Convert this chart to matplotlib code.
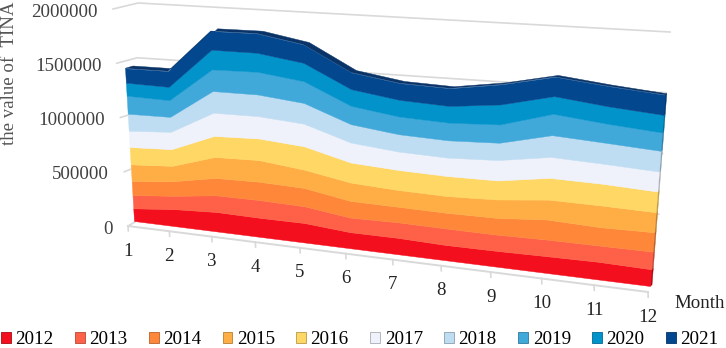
import numpy as np
import matplotlib

matplotlib.use("Agg")
import matplotlib.pyplot as plt
from matplotlib.patches import Patch
from matplotlib.transforms import Transform

plt.rcParams["font.family"] = ["Liberation Serif", "DejaVu Serif"]

months = np.arange(1, 13)

# values
v2012 = [120000, 158000, 177000, 170000, 170000, 137000, 137000, 125000, 126000, 131000, 135000, 126000]
v2013 = [126000, 124000, 152000, 158000, 146000, 125000, 130000, 135000, 130000, 130000, 125000, 133000]
v2014 = [133000, 136000, 158000, 164000, 160000, 143000, 130000, 129000, 134000, 157000, 141000, 146000]
v2015 = [158000, 142000, 191000, 193000, 160000, 157000, 140000, 137000, 147000, 157000, 167000, 151000]
v2016 = [164000, 155000, 191000, 193000, 204000, 171000, 168000, 164000, 153000, 171000, 167000, 156000]
v2017 = [155000, 161000, 212000, 199000, 198000, 171000, 154000, 151000, 164000, 165000, 154000, 151000]
v2018 = [161000, 139000, 197000, 193000, 181000, 157000, 145000, 142000, 139000, 171000, 162000, 156000]
v2019 = [171000, 155000, 197000, 202000, 190000, 157000, 148000, 145000, 147000, 168000, 147000, 138000]
v2020 = [123000, 124000, 179000, 170000, 160000, 143000, 140000, 137000, 161000, 139000, 134000, 133000]
v2021 = [136000, 146000, 170000, 173000, 160000, 143000, 140000, 145000, 161000, 152000, 154000, 151000]

years = ["2012", "2013", "2014", "2015", "2016", "2017", "2018", "2019", "2020", "2021"]
series = [v2012, v2013, v2014, v2015, v2016, v2017, v2018, v2019, v2020, v2021]
colors = ["#F40F1E", "#FF6148", "#FF873A", "#FFAE45", "#FFD764",
          "#EFF1FB", "#BFDDF2", "#41A8DA", "#0293CB", "#03478E"]
side_colors = ["#A80A14", "#B84634", "#B8612A", "#B87E32", "#B89B48",
               "#A9ABB2", "#8A9FAE", "#2F799D", "#016A92", "#023366"]
y_ticks = [0, 500000, 1000000, 1500000, 2000000]
y_top = 2000000


class Skewed(Transform):
    """(month, value) to picture pixels, for a plane seen at an angle."""

    input_dims = 2
    output_dims = 2

    def __init__(self, low_left, low_right, top_left, top_right, k=1.157):
        super().__init__()
        self.corners = np.array([low_left, low_right, top_left, top_right], dtype=float)
        self.k = k

    def transform_non_affine(self, values):
        values = np.asarray(values, dtype=float)
        t = (values[:, 0] - 1) / 11
        u = (t / (self.k - (self.k - 1) * t))[:, None]
        v = (values[:, 1] / y_top)[:, None]
        c = self.corners
        return (1 - u) * ((1 - v) * c[0] + v * c[2]) + u * ((1 - v) * c[1] + v * c[3])


front = Skewed((134, 221), (650, 286), (121.6, 10), (670.8, 20.7))
back = Skewed((142, 219), (652, 285), (129.6, 7.5), (672.5, 19.5))
wall_front = Skewed((128, 226), (648, 292), (113, 9), (640, 60))
wall_back = Skewed((135, 222), (655, 275), (138, 3), (670, 32))

fig = plt.figure(figsize=(7.26, 3.48), dpi=100)
ax = fig.add_axes([0, 0, 1, 1])
grid_color = "#D9D9D9"

# walls and floor
for tick in y_ticks:
    start = wall_front.transform(np.array([[1.0, tick]]))[0]
    corner = wall_back.transform(np.array([[1.0, tick]]))[0]
    end = wall_back.transform(np.array([[12.0, tick]]))[0]
    if tick > 0:
        ax.plot([start[0], corner[0], end[0]], [start[1], corner[1], end[1]],
                color=grid_color, lw=1.2, solid_joinstyle="miter", zorder=0.5)
    else:
        ax.plot([start[0], corner[0]], [start[1], corner[1]], color=grid_color, lw=1.2, zorder=0.5)
    ax.annotate(f"{tick}", xy=(1, tick), xycoords=wall_front + ax.transData,
                xytext=(-11, -2.2), textcoords="offset points", ha="right", va="center",
                fontsize=13.6, color="#404040")

ax.plot(months, np.zeros(12), color=grid_color, lw=1.4, transform=wall_front + ax.transData, zorder=0.5)
for m in months:
    ax.plot([m, m], [0, -45000], color=grid_color, lw=1.2, transform=wall_front + ax.transData, zorder=0.5)
    ax.annotate(f"{m}", xy=(m, 0), xycoords=wall_front + ax.transData,
                xytext=(0, -18), textcoords="offset points", ha="center", va="center",
                fontsize=13.6, color="#222222")

# stacked area
stack = np.vstack([np.zeros(12), np.cumsum(np.array(series, dtype=float), axis=0)])

top_front = front.transform(np.column_stack([months, stack[-1]]))
top_back = back.transform(np.column_stack([months, stack[-1]]))
ax.fill(np.r_[top_front[:, 0], top_back[::-1, 0]], np.r_[top_front[:, 1], top_back[::-1, 1]],
        color="#0A3468", lw=0.3, zorder=1)

for i in range(len(years)):
    low = back.transform(np.array([[12.0, stack[i, -1]], [12.0, stack[i + 1, -1]]]))
    high = front.transform(np.array([[12.0, stack[i, -1]], [12.0, stack[i + 1, -1]]]))
    ax.fill([high[0, 0], low[0, 0], low[1, 0], high[1, 0]],
            [high[0, 1], low[0, 1], low[1, 1], high[1, 1]],
            color=side_colors[i], lw=0.3, zorder=1)

for i in range(len(years)):
    ax.fill_between(months, stack[i], stack[i + 1], color=colors[i], lw=0.3,
                    transform=front + ax.transData, zorder=2)

ax.text(10, 73, "the value of  TINA", rotation=90, ha="center", va="center",
        fontsize=13.6, color="#555555")
ax.text(674, 303, "Month", ha="left", va="center", fontsize=13.6, color="#222222")

handles = [Patch(facecolor=c, edgecolor=s, lw=0.6) for c, s in zip(colors, side_colors)]
ax.legend(handles, years, ncol=10, loc="center left", bbox_to_anchor=(0.001, 8 / 348),
          frameon=False, fontsize=13.8, handlelength=0.52, handleheight=0.52,
          handletextpad=0.22, columnspacing=1.128, borderpad=0, borderaxespad=0)

ax.set_xlim(0, 726)
ax.set_ylim(348, 0)
ax.axis("off")

plt.savefig("out.png", dpi=100)
